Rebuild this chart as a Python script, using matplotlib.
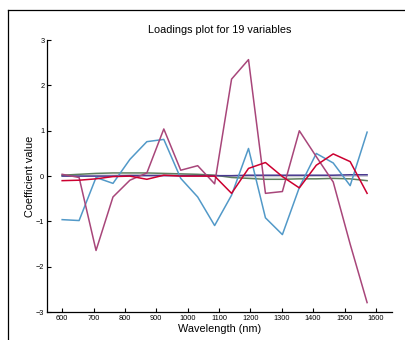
import matplotlib
matplotlib.use("Agg")
import matplotlib.pyplot as plt
from matplotlib.lines import Line2D

plt.rcParams['font.family'] = ['Liberation Sans', 'DejaVu Sans']

# wavelengths of the 19 variables (nm)
wavelength = [600, 654, 708, 762, 816, 870, 924, 978, 1032, 1086,
              1140, 1194, 1248, 1302, 1356, 1410, 1464, 1518, 1572]

# loadings
comp_green = [0.02, 0.04, 0.06, 0.07, 0.07, 0.07, 0.06, 0.05, 0.04, 0.02,
              -0.03, -0.05, -0.07, -0.07, -0.06, -0.06, -0.05, -0.06, -0.10]
comp_gray = [0.01, 0.01, 0.02, 0.02, 0.03, 0.03, 0.03, 0.02, 0.02, 0.01,
             0.0, -0.01, -0.01, -0.01, -0.01, 0.0, 0.0, 0.0, 0.0]
comp_purple = [0.0, 0.0, 0.0, 0.0, 0.01, 0.01, 0.01, 0.01, 0.01, 0.01,
               0.01, 0.02, 0.02, 0.02, 0.02, 0.02, 0.02, 0.03, 0.03]
comp_blue = [-0.96, -0.98, -0.03, -0.16, 0.37, 0.76, 0.81, -0.05, -0.46, -1.09,
             -0.42, 0.61, -0.92, -1.29, -0.25, 0.50, 0.29, -0.21, 0.97]
comp_magenta = [0.04, -0.03, -1.64, -0.46, -0.09, 0.07, 1.04, 0.13, 0.23, -0.17,
                2.14, 2.57, -0.38, -0.34, 1.00, 0.43, -0.13, -1.50, -2.79]
comp_red = [-0.10, -0.09, -0.06, -0.01, 0.0, -0.07, 0.02, 0.0, 0.0, 0.0,
            -0.38, 0.17, 0.30, -0.01, -0.26, 0.24, 0.49, 0.32, -0.38]

fig = plt.figure(figsize=(4.06, 3.40), dpi=100)
ax = fig.add_axes([0.116, 0.082, 0.850, 0.800])

lw = 1.1
ax.plot(wavelength, comp_gray, color='#c8c8d0', lw=lw)
ax.plot(wavelength, comp_green, color='#5e7f5e', lw=lw)
ax.plot(wavelength, comp_purple, color='#4a3a90', lw=lw)
ax.plot(wavelength, comp_blue, color='#5299c8', lw=lw)
ax.plot(wavelength, comp_magenta, color='#a8467a', lw=lw)
ax.plot(wavelength, comp_red, color='#cc0030', lw=lw)

ax.set_xlim(552, 1652)
ax.set_ylim(-3, 3)
ax.set_xticks([600, 700, 800, 900, 1000, 1100, 1200, 1300, 1400, 1500, 1600])
ax.set_yticks([-3, -2, -1, 0, 1, 2, 3])
ax.set_yticklabels(['\u22123', '\u22122', '\u22121', '0', '1', '2', '3'])
ax.spines['top'].set_visible(False)
ax.spines['right'].set_visible(False)
for s in ['left', 'bottom']:
    ax.spines[s].set_linewidth(0.9)
ax.tick_params(direction='in', length=3, width=0.8, labelsize=5.3, pad=2)

ax.set_title('Loadings plot for 19 variables', fontsize=7.8, pad=5)
ax.set_xlabel('Wavelength (nm)', fontsize=7.8, labelpad=1.5)
ax.set_ylabel('Coefficient value', fontsize=7.8, labelpad=1)

# outer frame (top and left edges visible in the crop)
fig.add_artist(Line2D([0.02, 0.995], [0.97, 0.97], color='black', lw=0.9,
                      transform=fig.transFigure))
fig.add_artist(Line2D([0.02, 0.02], [0.0, 0.97], color='black', lw=0.9,
                      transform=fig.transFigure))

fig.savefig('out.png', dpi=100)
